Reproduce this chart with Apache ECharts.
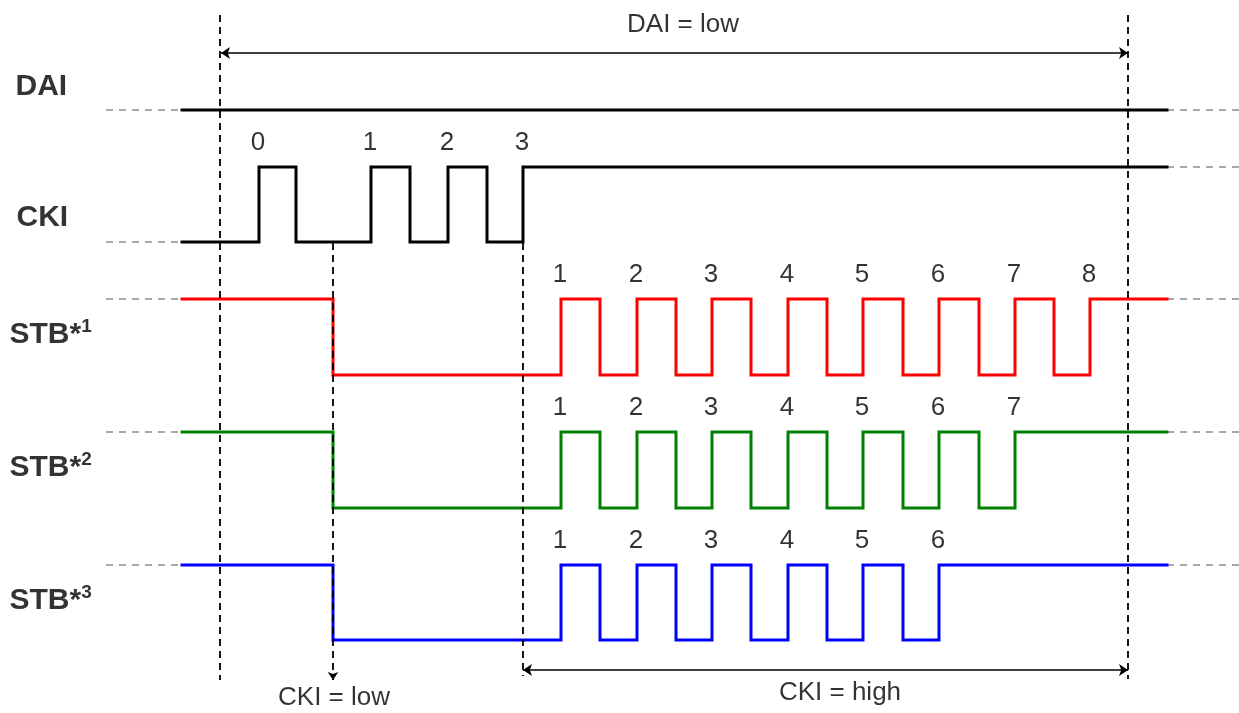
<!DOCTYPE html>
<html>
<head>
<meta charset="utf-8">
<script src="https://cdn.jsdelivr.net/npm/echarts@6/dist/echarts.min.js"></script>
<style>html,body{margin:0;padding:0;background:#fff}#c{width:1239px;height:713px}</style>
</head>
<body>
<div id="c"></div>
<script>
// ---- data (time in ns-like units along x) ----
const signalNames = ['DAI', 'CKI', 'STB*1', 'STB*2', 'STB*3'];
const startLevels = [0, 0, 1, 1, 1];          // 1 = high, 0 = low
const daiEdges = [];
const ckiEdges = [259, 296, 371, 410, 448, 487, 523];
const stb1Edges = [333, 561, 600, 637, 676, 712, 751, 788, 827, 863, 903, 939, 979, 1015, 1054, 1090];
const stb2Edges = [333, 561, 600, 637, 676, 712, 751, 788, 827, 863, 903, 939, 979, 1015];
const stb3Edges = [333, 561, 600, 637, 676, 712, 751, 788, 827, 863, 903, 939];
const ckiPulseLabels = ['0', '1', '2', '3'];
const stb1PulseLabels = ['1', '2', '3', '4', '5', '6', '7', '8'];
const stb2PulseLabels = ['1', '2', '3', '4', '5', '6', '7'];
const stb3PulseLabels = ['1', '2', '3', '4', '5', '6'];
const tStart = 182, tEnd = 1167;
const markerTimes = [220, 333, 523, 1128];   // dashed reference instants
const spanLabels = ['DAI = low', 'CKI = low', 'CKI = high'];

// ---- layout ----
const edgesList = [daiEdges, ckiEdges, stb1Edges, stb2Edges, stb3Edges];
const pulseLabelList = [[], ckiPulseLabels, stb1PulseLabels, stb2PulseLabels, stb3PulseLabels];
const colors = ['#000000', '#000000', '#ff0000', '#008000', '#0000ff'];
const lanes = [ {hi: 110, lo: 110}, {hi: 167, lo: 242}, {hi: 299, lo: 375}, {hi: 432, lo: 508}, {hi: 565, lo: 640} ];
const nameLabelPos = [[15, 87], [16, 218], [9, 335], [9, 468], [9, 601]];
const FONT = '"Liberation Sans", Arial, sans-serif';

const series = [];

function wave(i) {
  const L = lanes[i];
  let lvl = startLevels[i];
  const y = v => (v ? L.hi : L.lo);
  const pts = [[tStart, y(lvl)]];
  const rises = [];
  edgesList[i].forEach(e => {
    pts.push([e, y(lvl)]);
    lvl = 1 - lvl;
    pts.push([e, y(lvl)]);
    if (lvl === 1) rises.push(e);
  });
  pts.push([tEnd, y(lvl)]);
  return {pts, endLevel: y(lvl), startLevel: y(startLevels[i]), rises};
}

signalNames.forEach((name, i) => {
  const w = wave(i);
  series.push({
    type: 'lines', coordinateSystem: 'cartesian2d', silent: true, z: 1,
    lineStyle: {color: '#8c8c8c', width: 1.6, type: [7, 6], opacity: 1},
    data: [{coords: [[106, w.startLevel], [tStart, w.startLevel]]}, {coords: [[tEnd, w.endLevel], [1239, w.endLevel]]}]
  });
  series.push({
    type: 'line', data: w.pts, showSymbol: false, silent: true, z: 3,
    lineStyle: {color: colors[i], width: 3, cap: 'square', join: 'miter'}
  });
  const labs = pulseLabelList[i];
  if (labs.length) {
    series.push({
      type: 'scatter', symbolSize: 1, itemStyle: {color: 'rgba(0,0,0,0)'}, silent: true, z: 5,
      data: labs.map((t, k) => ({value: [w.rises[k] - 1, lanes[i].hi - 24], name: t})),
      label: {show: true, position: 'inside', formatter: p => p.name, color: '#000', fontSize: 26, fontFamily: FONT}
    });
  }
});

series.push({
  type: 'scatter', symbolSize: 1, itemStyle: {color: 'rgba(0,0,0,0)'}, silent: true, z: 5,
  data: signalNames.map((n, i) => ({value: nameLabelPos[i], name: n})),
  label: {
    show: true, position: 'right', distance: 0, color: '#000',
    formatter: p => {
      const m = p.name.match(/^(.*\*)(\d)$/);
      return m ? '{b|' + m[1] + '}{s|' + m[2] + '}' : '{b|' + p.name + '}';
    },
    rich: {
      b: {fontSize: 30, fontWeight: 'bold', fontFamily: FONT, color: '#000'},
      s: {fontSize: 19, fontWeight: 'bold', fontFamily: FONT, color: '#000', verticalAlign: 'top', lineHeight: 36}
    }
  }
});

series.push({
  type: 'lines', coordinateSystem: 'cartesian2d', silent: true, z: 4,
  lineStyle: {color: '#000', width: 1.8, type: [7, 5], opacity: 1},
  data: [
    {coords: [[markerTimes[0], 15], [markerTimes[0], 680]]},
    {coords: [[markerTimes[2], 243], [markerTimes[2], 676]]},
    {coords: [[markerTimes[3], 15], [markerTimes[3], 679]]}
  ]
});
series.push({
  type: 'lines', coordinateSystem: 'cartesian2d', silent: true, z: 4,
  symbol: ['none', 'arrow'], symbolSize: 8,
  lineStyle: {color: '#000', width: 1.8, type: [7, 5], opacity: 1},
  data: [{coords: [[markerTimes[1], 243], [markerTimes[1], 680]]}]
});
series.push({
  type: 'lines', coordinateSystem: 'cartesian2d', silent: true, z: 4,
  symbol: ['arrow', 'arrow'], symbolSize: 9,
  lineStyle: {color: '#000', width: 1.5, opacity: 1},
  data: [
    {coords: [[markerTimes[0] + 1, 53], [markerTimes[3], 53]]},
    {coords: [[markerTimes[2], 670], [markerTimes[3], 670]]}
  ]
});
series.push({
  type: 'scatter', symbolSize: 1, itemStyle: {color: 'rgba(0,0,0,0)'}, silent: true, z: 5,
  data: [
    {value: [683, 25], name: spanLabels[0]},
    {value: [334, 698], name: spanLabels[1]},
    {value: [840, 693], name: spanLabels[2]}
  ],
  label: {show: true, position: 'inside', formatter: p => p.name, color: '#000', fontSize: 26, fontFamily: FONT}
});

const chart = echarts.init(document.getElementById('c'));
chart.setOption({
  animation: false,
  backgroundColor: '#fff',
  grid: {left: 0, right: 0, top: 0, bottom: 0},
  xAxis: {type: 'value', min: 0, max: 1239, show: false},
  yAxis: {type: 'value', min: 0, max: 713, inverse: true, show: false},
  series
});
</script>
</body>
</html>
